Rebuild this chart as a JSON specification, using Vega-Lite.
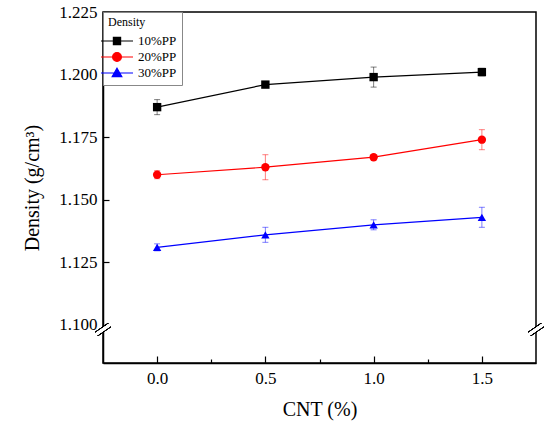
{
  "$schema": "https://vega.github.io/schema/vega-lite/v6.json",
  "width": 433,
  "height": 351,
  "autosize": "none",
  "padding": {"left": 103, "top": 12, "right": 14, "bottom": 64},
  "background": "white",
  "data": {
    "values": [
      {"cnt": 0.0, "density": 1.187, "err": 0.003, "series": "10%PP"},
      {"cnt": 0.5, "density": 1.196, "err": 0.0008, "series": "10%PP"},
      {"cnt": 1.0, "density": 1.199, "err": 0.004, "series": "10%PP"},
      {"cnt": 1.5, "density": 1.201, "err": 0.0015, "series": "10%PP"},
      {"cnt": 0.0, "density": 1.160, "err": 0.0016, "series": "20%PP"},
      {"cnt": 0.5, "density": 1.163, "err": 0.005, "series": "20%PP"},
      {"cnt": 1.0, "density": 1.167, "err": 0.0008, "series": "20%PP"},
      {"cnt": 1.5, "density": 1.174, "err": 0.004, "series": "20%PP"},
      {"cnt": 0.0, "density": 1.131, "err": 0.0014, "series": "30%PP"},
      {"cnt": 0.5, "density": 1.136, "err": 0.003, "series": "30%PP"},
      {"cnt": 1.0, "density": 1.140, "err": 0.002, "series": "30%PP"},
      {"cnt": 1.5, "density": 1.143, "err": 0.004, "series": "30%PP"}
    ]
  },
  "resolve": {"scale": {"shape": "independent", "fill": "independent", "stroke": "independent"}},
  "layer": [
    {
      "mark": {"type": "errorbar", "ticks": {"size": 6}, "opacity": 0.5, "thickness": 1},
      "encoding": {
        "x": {"field": "cnt", "type": "quantitative", "title": "CNT (%)"},
        "y": {"field": "density", "type": "quantitative", "title": "Density (g/cm³)"},
        "yError": {"field": "err"},
        "color": {"field": "series", "type": "nominal", "legend": null}
      }
    },
    {
      "mark": {"type": "line", "strokeWidth": 1.2},
      "encoding": {
        "x": {
          "field": "cnt", "type": "quantitative",
          "scale": {"domain": [-0.25, 1.75], "nice": false, "zero": false},
          "axis": {
            "orient": "bottom", "title": "CNT (%)",
            "values": [0, 0.25, 0.5, 0.75, 1, 1.25, 1.5],
            "labelExpr": "round(datum.value * 100) % 50 == 0 ? format(datum.value, '.1f') : ''",
            "labelOverlap": false,
            "grid": false,
            "tickSize": {"condition": {"test": "round(datum.value * 100) % 50 == 0", "value": -7}, "value": -4},
            "labelPadding": 14, "titlePadding": 10
          }
        },
        "y": {
          "field": "density", "type": "quantitative",
          "scale": {"domain": [1.0848, 1.225], "nice": false, "zero": false},
          "axis": {
            "orient": "left", "title": "Density (g/cm³)",
            "values": [1.1, 1.125, 1.15, 1.175, 1.2, 1.225],
            "format": ".3f",
            "grid": false,
            "tickSize": -6,
            "labelPadding": 12, "titlePadding": 16
          }
        },
        "color": {
          "field": "series", "type": "nominal", "legend": null,
          "scale": {"domain": ["10%PP", "20%PP", "30%PP"], "range": ["#000000", "#ff0000", "#0000ff"]}
        }
      }
    },
    {
      "mark": {"type": "point", "filled": true, "opacity": 1},
      "encoding": {
        "x": {"field": "cnt", "type": "quantitative", "title": "CNT (%)"},
        "y": {"field": "density", "type": "quantitative", "title": "Density (g/cm³)"},
        "color": {"field": "series", "type": "nominal", "legend": null},
        "shape": {
          "field": "series", "type": "nominal", "legend": null,
          "scale": {"domain": ["10%PP", "20%PP", "30%PP"], "range": ["square", "circle", "triangle-up"]}
        },
        "size": {"value": 70}
      }
    },
    {
      "data": {"values": []},
      "mark": {"type": "point", "filled": true, "opacity": 1, "strokeWidth": 1.2},
      "encoding": {
        "fill": {
          "field": "series", "type": "nominal", "title": "Density",
          "scale": {"domain": ["10%PP", "20%PP", "30%PP"], "range": ["#000000", "#ff0000", "#0000ff"]}
        },
        "stroke": {
          "field": "series", "type": "nominal", "title": "Density",
          "scale": {"domain": ["10%PP", "20%PP", "30%PP"], "range": ["#000000", "#ff0000", "#0000ff"]}
        },
        "shape": {
          "field": "series", "type": "nominal", "title": "Density",
          "scale": {
            "domain": ["10%PP", "20%PP", "30%PP"],
            "range": [
              "M-2,0H2M-0.45,-0.45H0.45V0.45H-0.45Z",
              "M-2,0H2M0.55,0A0.55,0.55,0,1,1,-0.55,0A0.55,0.55,0,1,1,0.55,0Z",
              "M-2,0H2M0,-0.6L0.6,0.45H-0.6Z"
            ]
          },
          "legend": {
            "title": "Density",
            "orient": "top-left",
            "offset": 0,
            "padding": 5,
            "strokeColor": "#888888",
            "fillColor": "white",
            "titleFont": "Liberation Serif",
            "titleFontSize": 12,
            "titleFontWeight": "normal",
            "titlePadding": 3,
            "labelFont": "Liberation Serif",
            "labelFontSize": 13,
            "labelColor": "black",
            "symbolSize": 256,
            "symbolStrokeWidth": 1.2,
            "symbolOpacity": 1,
            "labelOffset": 12,
            "rowPadding": 0
          }
        }
      }
    },
    {
      "mark": {"type": "rule", "color": "black", "strokeWidth": 5},
      "encoding": {"x": {"datum": -0.28}, "x2": {"datum": -0.22}, "y": {"datum": 1.0964}, "y2": {"datum": 1.1}}
    },
    {
      "mark": {"type": "rule", "color": "white", "strokeWidth": 2.6},
      "encoding": {"x": {"datum": -0.29}, "x2": {"datum": -0.21}, "y": {"datum": 1.0958}, "y2": {"datum": 1.1006}}
    },
    {
      "mark": {"type": "rule", "color": "black", "strokeWidth": 5},
      "encoding": {"x": {"datum": 1.72}, "x2": {"datum": 1.78}, "y": {"datum": 1.0964}, "y2": {"datum": 1.1}}
    },
    {
      "mark": {"type": "rule", "color": "white", "strokeWidth": 2.6},
      "encoding": {"x": {"datum": 1.71}, "x2": {"datum": 1.79}, "y": {"datum": 1.0958}, "y2": {"datum": 1.1006}}
    }
  ],
  "config": {
    "view": {"stroke": "black", "strokeWidth": 1.5},
    "font": "Liberation Serif",
    "axis": {
      "domainColor": "black",
      "domainWidth": 1.5,
      "tickColor": "black",
      "tickWidth": 1.2,
      "labelFont": "Liberation Serif",
      "labelFontSize": 17,
      "labelColor": "black",
      "titleFont": "Liberation Serif",
      "titleFontSize": 20,
      "titleFontWeight": "normal",
      "titleColor": "black"
    }
  }
}
